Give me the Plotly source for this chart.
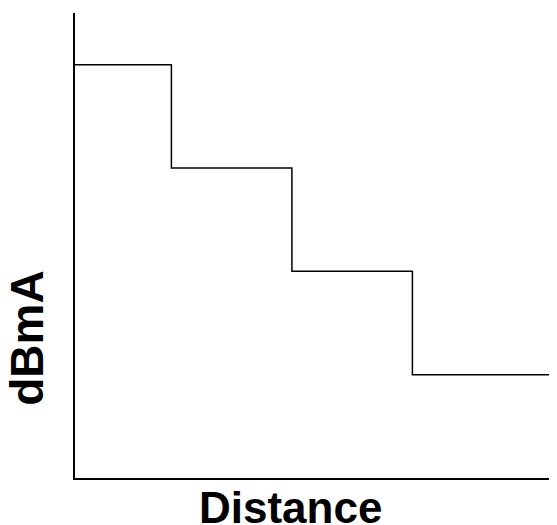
import plotly.graph_objects as go

# step profile: signal level drops at each distance break
distance = [0, 0.8, 1.8, 2.8, 4.0]
level = [4, 3, 2, 1, 1]

x_title = "Distance"
y_title = "dBmA"

fig = go.Figure()
fig.add_trace(go.Scatter(x=distance, y=level, mode="lines", line_shape="hv",
                         line=dict(color="black", width=1.5), showlegend=False,
                         hoverinfo="skip"))

fig.update_xaxes(range=[0, 4.0], showline=True, linecolor="black", linewidth=2,
                 showgrid=False, zeroline=False, showticklabels=False, ticks="")
fig.update_yaxes(range=[0, 4.5], showline=True, linecolor="black", linewidth=2,
                 showgrid=False, zeroline=False, showticklabels=False, ticks="")

fig.add_annotation(text=f"<b>{x_title}</b>", xref="paper", yref="paper",
                   x=0.448, y=-0.064, xanchor="center", yanchor="middle",
                   showarrow=False,
                   font=dict(family="Arial, Liberation Sans, sans-serif", size=44, color="black"))
fig.add_annotation(text=f"<b>{y_title}</b>", xref="paper", yref="paper",
                   x=-0.10, y=0.301, xanchor="center", yanchor="middle",
                   textangle=-90, showarrow=False,
                   font=dict(family="Arial, Liberation Sans, sans-serif", size=46, color="black"))

# page body has an 8px margin, so the figure is made 8px smaller
fig.update_layout(width=549, height=517, margin=dict(l=67, r=0, t=5, b=47),
                  paper_bgcolor="white", plot_bgcolor="white")

fig.write_html("out.html")
